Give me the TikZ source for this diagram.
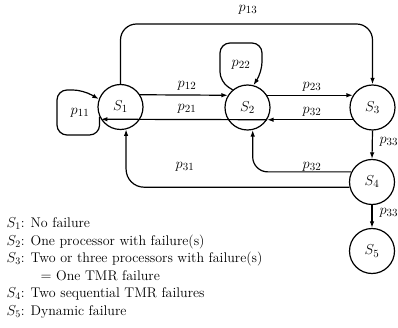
\documentclass[tikz,border=0pt]{standalone}
\usetikzlibrary{arrows.meta}
\begin{document}
\begin{tikzpicture}[x=1pt,y=-1pt, line width=1.2pt,
  >={Latex[length=6.5pt,width=4.5pt]},
  state/.style={circle,draw,minimum size=45pt,inner sep=0pt,font=\fontsize{15}{17}\selectfont},
  lbl/.style={font=\fontsize{15}{17}\selectfont, inner sep=1pt},
  leg/.style={anchor=base west, font=\fontsize{14}{16}\selectfont, inner sep=0pt}]
\useasboundingbox (0,0) rectangle (398,328);
% states
\node[state] (S1) at (120.5,107) {$S_1$};
\node[state] (S2) at (247.5,107.5) {$S_2$};
\node[state] (S3) at (372.5,107.5) {$S_3$};
\node[state] (S4) at (372,182) {$S_4$};
\node[state] (S5) at (372,251) {$S_5$};
% horizontal transitions
\draw[->] (S1.32) -- (S2.148);
\draw[->] (S2.328) -- (S1.212);
\draw[->] (S2.32) -- (S3.148);
\draw[->] (S3.212) -- (S2.328);
% top arc
\draw[->, rounded corners=16pt] (S1.north) |- (250,24) -| (S3.north);
% vertical
\draw[->] (S3.south) -- (S4.north);
\draw[->] (S4.south) -- (S5.north);
% returns from S4
\draw[->, rounded corners=18pt] (S4.193) -| (S1.284);
\draw[->, rounded corners=15pt] (S4.154) -| (S2.283);
% self loops
\draw[->, rounded corners=10pt] (S1.205) |- (57,135) |- (83,90) -- (S1.160);
\draw[->, rounded corners=10pt] (S2.130) -- (220,82) -- (220,43) -- (262,43) -- (262,72) -- (S2.75);
% labels
\node[lbl] (l13) at (248,10) {$p_{13}$};
\node[lbl] (l12) at (187,86) {$p_{12}$};
\node[lbl] (l21) at (187,109) {$p_{21}$};
\node[lbl] (l23) at (312,87) {$p_{23}$};
\node[lbl] (l32) at (312,112) {$p_{32}$};
\node[lbl,anchor=west] (l33a) at (378,142) {$p_{33}$};
\node[lbl,anchor=west] (l33b) at (378,213) {$p_{33}$};
\node[lbl] (l31) at (185,167) {$p_{31}$};
\node[lbl] (l32b) at (312,167) {$p_{32}$};
\node[lbl] (l11) at (80,113) {$p_{11}$};
\node[lbl] (l22) at (241,65) {$p_{22}$};
% legend
\node[leg] (g1) at (6,227.5) {$S_1$: No failure};
\node[leg] (g2) at (6,245) {$S_2$: One processor with failure(s)};
\node[leg] (g3) at (6,262.5) {$S_3$: Two or three processors with failure(s)};
\node[leg] (g4) at (40,280) {$=$ One TMR failure};
\node[leg] (g5) at (6,297.5) {$S_4$: Two sequential TMR failures};
\node[leg] (g6) at (6,315) {$S_5$: Dynamic failure};
\end{tikzpicture}
\end{document}
